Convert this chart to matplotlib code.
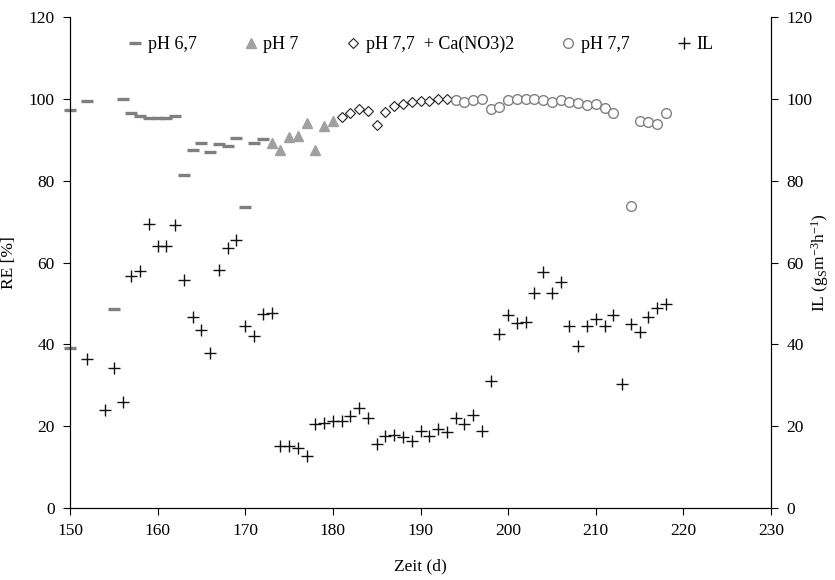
import matplotlib.pyplot as plt

plt.rcParams['font.family'] = ['Liberation Serif', 'DejaVu Serif']
plt.rcParams['mathtext.default'] = 'regular'

# RE [%] per phase
days_67 = [150, 150, 152, 155, 156, 157, 158, 159, 160, 161, 162, 163, 164, 165,
           166, 167, 168, 169, 170, 171, 172]
re_67 = [97.2, 39.2, 99.4, 48.6, 99.9, 96.5, 95.7, 95.4, 95.4, 95.4, 95.7, 81.3,
         87.4, 89.1, 86.9, 88.9, 88.5, 90.5, 73.6, 89.1, 90.3]

days_7 = [173, 174, 175, 176, 177, 178, 179, 180]
re_7 = [89.1, 87.5, 90.7, 91.0, 94.2, 87.5, 93.3, 94.7]

days_ca = [181, 182, 183, 184, 185, 186, 187, 188, 189, 190, 191, 192, 193]
re_ca = [95.6, 96.5, 97.4, 97.0, 93.5, 96.8, 98.2, 98.8, 99.3, 99.5, 99.5, 99.9, 100.0]

days_77 = [194, 195, 196, 197, 198, 199, 200, 201, 202, 203, 204, 205, 206, 207,
           208, 209, 210, 211, 212, 214, 215, 216, 217, 218]
re_77 = [99.7, 99.2, 99.7, 99.9, 97.6, 98.1, 99.8, 100.0, 100.0, 100.0, 99.6, 99.3,
         99.6, 99.2, 98.9, 98.6, 98.7, 97.7, 96.6, 73.8, 94.5, 94.3, 93.9, 96.5]

# IL (g m-3 h-1)
days_il = [152, 154, 155, 156, 157, 158, 159, 160, 161, 162, 163, 164, 165, 166,
           167, 168, 169, 170, 171, 172, 173, 174, 175, 176, 177, 178, 179, 180,
           181, 182, 183, 184, 185, 186, 187, 188, 189, 190, 191, 192, 193, 194,
           195, 196, 197, 198, 199, 200, 201, 202, 203, 204, 205, 206, 207, 208,
           209, 210, 211, 212, 213, 214, 215, 216, 217, 218]
il = [36.5, 24.0, 34.3, 25.8, 56.6, 57.9, 69.4, 64.0, 64.0, 69.2, 55.8, 46.6, 43.5,
      37.8, 58.1, 63.6, 65.6, 44.6, 42.0, 47.4, 47.7, 15.2, 15.2, 14.7, 12.6, 20.5,
      20.8, 21.3, 21.2, 22.4, 24.4, 21.9, 15.7, 17.5, 17.9, 17.4, 16.4, 18.8, 17.5,
      19.3, 18.6, 22.1, 20.5, 22.7, 18.8, 31.0, 42.6, 47.1, 45.3, 45.5, 52.6, 57.8,
      52.6, 55.2, 44.4, 39.7, 44.6, 46.2, 44.4, 47.2, 30.4, 44.9, 43.1, 46.8, 49.0,
      49.9]

fig = plt.figure(figsize=(8.35, 5.8), dpi=100)
ax = fig.add_axes([0.0838, 0.1241, 0.8396, 0.8466])
ax2 = ax.twinx()

h1, = ax.plot(days_67, re_67, ls='none', marker='_', ms=8, mew=2.4, color='#7f7f7f',
              label='pH 6,7', clip_on=False)
h2, = ax.plot(days_7, re_7, ls='none', marker='^', ms=7, color='#a0a0a0',
              label='pH 7')
h3, = ax.plot(days_ca, re_ca, ls='none', marker='D', ms=5, mfc='white', mec='#222222',
              mew=0.8, label='pH 7,7  + Ca(NO3)2')
h4, = ax.plot(days_77, re_77, ls='none', marker='o', ms=7, mfc='white', mec='#808080',
              mew=1.0, label='pH 7,7')
h5, = ax2.plot(days_il, il, ls='none', marker='+', ms=8, mew=1.0, color='#111111',
               label='IL')

for a in (ax, ax2):
    a.set_ylim(0, 120)
    a.set_yticks(range(0, 121, 20))
    a.tick_params(direction='out', labelsize=12.5, length=5, pad=6)
    a.spines['top'].set_visible(False)
ax.set_xlim(150, 230)
ax.set_xticks(range(150, 231, 10))

ax.set_xlabel('Zeit (d)', fontsize=12.5, labelpad=14)
ax.set_ylabel('RE [%]', fontsize=12.5, labelpad=8)
ax2.set_ylabel(r'IL (g$_S$m$^{-3}$h$^{-1}$)', fontsize=12.5)
ax2.yaxis.set_label_coords(1.055, 0.5)

ax.legend(handles=[h1, h2, h3, h4, h5], loc='upper center', ncol=5, frameon=False,
          fontsize=13, handlelength=0.8, handletextpad=0.3, columnspacing=2.6,
          bbox_to_anchor=(0.5, 0.995))

fig.savefig('out.png', dpi=100)
